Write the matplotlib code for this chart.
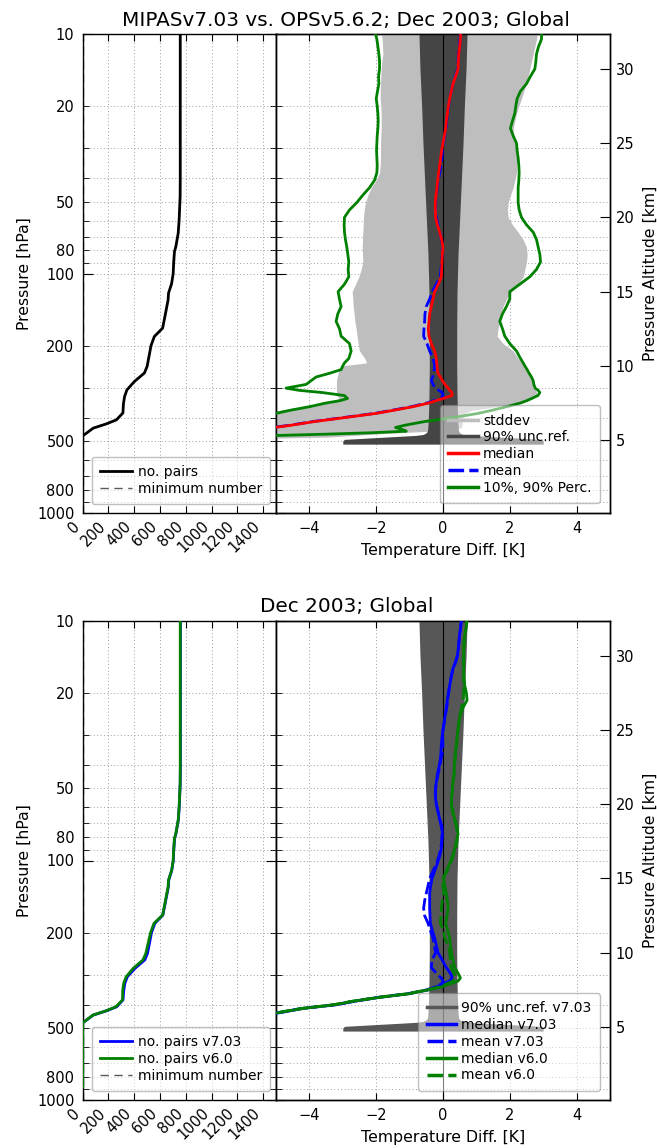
import numpy as np
import matplotlib
matplotlib.use('Agg')
import matplotlib.pyplot as plt
from matplotlib.ticker import FixedLocator, FuncFormatter, NullFormatter
from matplotlib.lines import Line2D

plt.rcParams['font.family'] = ['DejaVu Sans']
plt.rcParams['axes.linewidth'] = 1.0

# ---------------- data ----------------
# number of pairs (top panel, black)
pairs_p = [10, 20, 30, 40, 47.6, 60, 67.8, 77, 81, 90, 100, 110, 120.6, 128.5, 151, 169, 183,
           200, 244, 260, 282, 306, 326, 350, 382, 408, 424, 442, 463, 476]
pairs_n = [757, 757, 757, 757, 756, 748, 741, 723, 712, 706, 702, 690, 666, 663, 638, 620, 556,
           530, 500, 479, 402, 343, 325, 316, 312, 262, 185, 82, 31, 0]
# bottom panel
pairs703_p = pairs_p
pairs703_n = [758, 758, 758, 758, 757, 749, 742, 724, 713, 707, 703, 691, 668, 665, 640, 622, 560,
              534, 503, 482, 406, 346, 327, 318, 313, 264, 186, 82, 31, 0]
pairs60_p = pairs_p + [520, 700, 880]
pairs60_n = [757, 757, 757, 757, 756, 748, 741, 723, 712, 706, 702, 690, 666, 663, 638, 620, 553,
             527, 490, 468, 392, 337, 318, 310, 309, 258, 182, 80, 30, 0, 0, 0, 0]
min_number = 3

# top right statistics (altitude in km)
stats_alt = [32.35, 32.0, 31.5, 31.0, 30.5, 30.0, 29.5, 29.0, 28.5, 28.0, 27.5, 27.0,
             26.5, 26.0, 25.5, 25.0, 24.5, 24.0, 23.5, 23.0, 22.5, 22.0, 21.5, 21.0,
             20.5, 20.0, 19.5, 19.0, 18.5, 18.0, 17.5, 17.0, 16.5, 16.0, 15.5, 15.0,
             14.5, 14.0, 13.5, 13.0, 12.5, 12.0, 11.5, 11.0, 10.5, 10.2, 10.0,
             9.75, 9.5, 9.25, 9.0, 8.75, 8.5, 8.35, 8.2, 8.0, 7.8, 7.65, 7.5,
             7.25, 7.0, 6.8, 6.5, 6.25, 6.0, 5.85, 5.7, 5.6, 5.5, 5.4, 5.3, 5.2, 5.1, 5.0]
perc10 = [-2.02, -1.98, -1.95, -1.92, -1.90, -1.90, -1.93, -1.92, -1.96, -2.00, -1.97, -1.95,
          -1.94, -1.95, -1.97, -1.98, -1.99, -1.98, -1.97, -1.98, -2.05, -2.20, -2.40, -2.58,
          -2.80, -2.95, -2.96, -2.95, -2.92, -2.88, -2.85, -2.82, -2.84, -2.82, -2.95, -3.14,
          -3.10, -3.05, -3.15, -3.20, -3.10, -3.05, -2.80, -2.75, -2.82, -2.95, -3.00,
          -3.05, -3.40, -3.80, -3.95, -4.10, -4.70, -4.30, -3.60, -2.95, -2.86, -3.10, -3.50,
          -4.00, -4.60, -5.00, -6.00, -6.80, -7.50, -8.0, -8.5, -9.0, -9.0, -9.0, -9.0, -9.0, -9.0, -9.0]
std_lo = [-1.85, -1.82, -1.81, -1.80, -1.83, -1.85, -1.86, -1.87, -1.88, -1.88, -1.86, -1.85,
          -1.85, -1.85, -1.86, -1.87, -1.87, -1.87, -1.88, -1.90, -2.00, -2.15, -2.25, -2.32,
          -2.36, -2.38, -2.39, -2.40, -2.41, -2.42, -2.41, -2.40, -2.45, -2.52, -2.62, -2.72,
          -2.70, -2.69, -2.66, -2.64, -2.60, -2.57, -2.54, -2.50, -2.34, -2.29, -3.04,
          -3.12, -3.14, -3.17, -3.19, -3.19, -3.19, -3.19, -3.19, -3.17, -3.12, -3.30, -3.65,
          -4.20, -4.90, -5.40, -6.50, -7.50, -8.50, -9.0, -9.5, -10, -10, -10, -10, -10, -10, -10]
median = [0.53, 0.52, 0.50, 0.47, 0.46, 0.45, 0.38, 0.30, 0.25, 0.20, 0.16, 0.13,
          0.10, 0.08, 0.04, 0.00, -0.04, -0.07, -0.10, -0.13, -0.16, -0.18, -0.21, -0.23,
          -0.23, -0.22, -0.17, -0.10, -0.04, 0.00, -0.02, -0.03, -0.04, -0.05, -0.14, -0.25,
          -0.30, -0.35, -0.40, -0.42, -0.44, -0.42, -0.35, -0.25, -0.20, -0.19, -0.18,
          -0.17, -0.15, -0.08, -0.02, 0.06, 0.15, 0.20, 0.27, 0.27, 0.00, -0.22, -0.42,
          -0.90, -1.50, -2.00, -3.00, -3.85, -4.55, -5.05, -5.6, -6.0, -6.3, -6.6, -6.9, -7.2, -7.5, -7.8]
mean = [0.52, 0.51, 0.49, 0.46, 0.45, 0.44, 0.37, 0.30, 0.25, 0.20, 0.17, 0.14,
        0.11, 0.09, 0.05, 0.01, -0.02, -0.03, -0.06, -0.10, -0.14, -0.17, -0.20, -0.22,
        -0.22, -0.20, -0.15, -0.10, -0.04, -0.01, -0.02, -0.04, -0.06, -0.08, -0.20, -0.32,
        -0.40, -0.50, -0.54, -0.55, -0.57, -0.58, -0.48, -0.40, -0.30, -0.26, -0.25,
        -0.26, -0.27, -0.31, -0.35, -0.30, -0.22, -0.12, -0.02, 0.00, -0.06, -0.28, -0.48,
        -0.95, -1.55, -2.05, -3.05, -3.90, -4.60, -5.1, -5.65, -6.05, -6.35, -6.65, -6.95, -7.25, -7.55, -7.85]
std_hi = [2.82, 2.80, 2.75, 2.70, 2.65, 2.60, 2.55, 2.50, 2.42, 2.35, 2.27, 2.20,
          2.15, 2.10, 2.12, 2.15, 2.18, 2.20, 2.20, 2.20, 2.15, 2.10, 2.02, 1.95,
          1.93, 1.95, 2.08, 2.25, 2.40, 2.50, 2.52, 2.50, 2.45, 2.40, 2.25, 2.05,
          1.90, 1.80, 1.72, 1.70, 1.65, 1.62, 1.80, 2.10, 2.25, 2.35, 2.45,
          2.52, 2.58, 2.64, 2.70, 2.72, 2.75, 2.78, 2.80, 2.80, 2.70, 2.55, 2.30,
          1.60, 0.85, 0.65, 0.60, 0.58, 0.57, 0.55, 0.35, -0.40, -1.30, -2.10, -2.80, -3.50, -6.00, -9.00]
perc90 = [2.95, 2.95, 2.86, 2.80, 2.78, 2.75, 2.62, 2.50, 2.32, 2.22, 2.18, 2.15,
          2.08, 2.02, 2.10, 2.20, 2.22, 2.25, 2.27, 2.28, 2.27, 2.25, 2.25, 2.25,
          2.28, 2.35, 2.50, 2.70, 2.80, 2.85, 2.90, 2.92, 2.80, 2.60, 2.30, 2.00,
          2.00, 1.90, 1.78, 1.70, 1.78, 1.85, 2.00, 2.20, 2.32, 2.40, 2.45,
          2.52, 2.58, 2.65, 2.70, 2.72, 2.76, 2.85, 2.90, 2.84, 2.65, 2.50, 2.32,
          1.90, 1.45, 1.05, 0.25, -0.55, -1.15, -1.42, -1.20, -1.10, -2.10, -3.50, -5.20, -7.0, -8.0, -9.0]

# 90% uncertainty of reference (half width, K)
unc_alt = [32.35, 30, 27.5, 25, 22.5, 20, 17.5, 15, 12.5, 10, 8, 7, 6.5, 6.0, 5.7,
           5.55, 5.45, 5.38, 5.32, 5.25, 5.15, 5.05, 4.95, 4.73]
unc_half = [0.72, 0.69, 0.64, 0.60, 0.55, 0.50, 0.45, 0.42, 0.41, 0.41, 0.42, 0.43, 0.44, 0.45, 0.46,
            0.48, 0.53, 0.60, 0.80, 1.35, 2.15, 2.95, 3.0, 3.0]

# bottom right (v7.03 vs v6.0)
bot_alt = [32.35, 32.0, 31.5, 31.0, 30.5, 30.0, 29.5, 29.0, 28.5, 28.0, 27.5, 27.0,
           26.5, 26.0, 25.5, 25.0, 24.5, 24.0, 23.5, 23.0, 22.5, 22.0, 21.5, 21.0,
           20.5, 20.0, 19.5, 19.0, 18.5, 18.0, 17.5, 17.0, 16.5, 16.0, 15.5, 15.0,
           14.5, 14.0, 13.5, 13.0, 12.5, 12.0, 11.5, 11.0, 10.5, 10.0,
           9.5, 9.0, 8.75, 8.5, 8.3, 8.1, 8.0, 7.8, 7.7, 7.5, 7.25, 7.0,
           6.75, 6.5, 6.25, 6.0, 5.75, 5.5, 5.2]
med703 = [0.55, 0.53, 0.50, 0.48, 0.46, 0.43, 0.36, 0.28, 0.24, 0.20, 0.16, 0.13,
          0.10, 0.07, 0.03, 0.00, -0.03, -0.05, -0.06, -0.08, -0.12, -0.17, -0.20, -0.23,
          -0.23, -0.20, -0.15, -0.10, -0.03, -0.02, -0.03, -0.05, -0.10, -0.17, -0.25, -0.33,
          -0.37, -0.40, -0.40, -0.40, -0.39, -0.38, -0.32, -0.25, -0.20, -0.15,
          -0.02, 0.10, 0.18, 0.25, 0.27, 0.20, 0.10, -0.10, -0.20, -0.45, -1.00, -1.90,
          -2.60, -3.20, -4.20, -4.80, -5.50, -6.20, -7.0]
mean703 = [0.55, 0.53, 0.51, 0.48, 0.46, 0.44, 0.37, 0.29, 0.24, 0.20, 0.17, 0.14,
           0.11, 0.07, 0.04, 0.00, -0.01, 0.00, -0.02, -0.06, -0.10, -0.15, -0.19, -0.22,
           -0.22, -0.20, -0.15, -0.10, -0.05, -0.03, -0.04, -0.07, -0.12, -0.20, -0.30, -0.40,
           -0.45, -0.50, -0.55, -0.58, -0.55, -0.45, -0.38, -0.30, -0.26, -0.22,
           -0.33, -0.35, -0.25, -0.15, -0.05, 0.00, 0.00, -0.12, -0.22, -0.50, -1.05, -1.95,
           -2.65, -3.25, -4.25, -4.85, -5.55, -6.25, -7.05]
med60 = [0.72, 0.70, 0.66, 0.63, 0.62, 0.62, 0.62, 0.62, 0.63, 0.65, 0.70, 0.72,
         0.60, 0.52, 0.48, 0.45, 0.42, 0.40, 0.37, 0.35, 0.34, 0.33, 0.30, 0.28,
         0.26, 0.25, 0.30, 0.35, 0.42, 0.45, 0.40, 0.35, 0.28, 0.20, 0.10, 0.02,
         0.05, 0.10, 0.13, 0.15, 0.12, 0.08, 0.14, 0.20, 0.22, 0.25,
         0.30, 0.35, 0.42, 0.48, 0.52, 0.45, 0.35, 0.05, -0.05, -0.45, -1.00, -1.90,
         -2.65, -3.25, -4.20, -4.85, -5.50, -6.20, -7.0]
mean60 = [0.71, 0.70, 0.67, 0.64, 0.63, 0.62, 0.62, 0.61, 0.62, 0.63, 0.62, 0.60,
          0.56, 0.50, 0.47, 0.45, 0.43, 0.41, 0.39, 0.36, 0.34, 0.33, 0.30, 0.28,
          0.26, 0.25, 0.28, 0.33, 0.40, 0.43, 0.42, 0.38, 0.30, 0.22, 0.12, 0.00,
          0.00, 0.02, -0.02, -0.05, -0.06, -0.08, 0.02, 0.05, 0.15, 0.20,
          0.22, 0.25, 0.30, 0.35, 0.38, 0.30, 0.20, 0.00, -0.10, -0.50, -1.05, -1.95,
          -2.70, -3.30, -4.25, -4.90, -5.55, -6.25, -7.05]

p_major = [10, 100, 1000]
p_minor = [20, 30, 40, 50, 60, 70, 80, 90, 200, 300, 400, 500, 600, 700, 800, 900]
p_minor_labels = {20: '20', 50: '50', 80: '80', 200: '200', 500: '500', 800: '800'}
n_ticks = [0, 200, 400, 600, 800, 1000, 1200, 1400]
t_ticks = [-4, -2, 0, 2, 4]
alt_ticks = [5, 10, 15, 20, 25, 30]

# ---------------- style ----------------
TICK_FS = 10.5
LAB_FS = 11.3
LEG_FS = 10.0
TITLE_FS = 14.4
GRID = dict(color='0.62', linestyle=(0, (1, 2.5)), linewidth=0.7)
DARK_TOP = '#454545'
DARK_BOT = '#575757'
LIGHT = '#bebebe'
DASH = (0, (4.5, 1.5))
LEGKW = dict(fontsize=LEG_FS, handletextpad=0.4, labelspacing=0.2, borderpad=0.6,
             fancybox=True, framealpha=0.5, edgecolor='0.5', borderaxespad=0)


def alt_of(p):
    return 7.0 * np.log(1013.25 / p)


W, H = 657.0, 1148.0
fig = plt.figure(figsize=(W / 100, H / 100), dpi=100)


def frac(x0, y0, x1, y1):
    return [x0 / W, 1 - y1 / H, (x1 - x0) / W, (y1 - y0) / H]


def setup_pressure(ax, labels):
    ax.set_yscale('log')
    ax.set_ylim(1000, 10)
    ax.yaxis.set_major_locator(FixedLocator(p_major))
    ax.yaxis.set_minor_locator(FixedLocator(p_minor))
    if labels:
        ax.yaxis.set_major_formatter(FuncFormatter(lambda v, pos: '%d' % v))
        ax.yaxis.set_minor_formatter(FuncFormatter(lambda v, pos: p_minor_labels.get(int(round(v)), '')))
    else:
        ax.yaxis.set_major_formatter(NullFormatter())
        ax.yaxis.set_minor_formatter(NullFormatter())
    ax.grid(True, which='both', **GRID)
    ax.set_axisbelow(True)


def left_panel(y0, y1, series, legend_labels):
    ax = fig.add_axes(frac(82.7, y0, 276, y1))
    setup_pressure(ax, True)
    ax.set_xlim(0, 1500)
    ax.set_xticks(n_ticks)
    ax.set_xticklabels([str(v) for v in n_ticks], rotation=45, ha='right', fontsize=TICK_FS)
    ax.tick_params(axis='both', which='both', direction='in', top=True, right=True,
                   labelsize=TICK_FS)
    ax.tick_params(axis='y', which='major', length=7, pad=6)
    ax.tick_params(axis='y', which='minor', length=4, pad=6)
    ax.tick_params(axis='x', which='major', length=5, pad=4)
    handles = []
    for (p, n, c) in series:
        h, = ax.plot(n, p, color=c, lw=2, zorder=3)
        handles.append(h)
    hm = ax.axvline(min_number, color='0.35', ls=(0, (6, 4)), lw=1.0, zorder=2)
    handles.append(hm)
    ax.set_ylabel('Pressure [hPa]', fontsize=LAB_FS, labelpad=4)
    leg = ax.legend(handles, legend_labels, loc='lower left',
                    bbox_to_anchor=(9 / 193.3, 9 / 478.7), handlelength=2.3, **LEGKW)
    leg.get_frame().set_linewidth(1.0)
    return ax


def right_panel(y0, y1):
    ax = fig.add_axes(frac(276, y0, 610, y1))
    setup_pressure(ax, False)
    ax.set_xlim(-5, 5)
    ax.set_xticks(t_ticks)
    ax.set_xticklabels(['\u22124', '\u22122', '0', '2', '4'])
    ax.tick_params(axis='both', which='both', direction='in', top=True, right=False,
                   labelsize=TICK_FS)
    ax.tick_params(axis='y', which='major', length=7)
    ax.tick_params(axis='y', which='minor', length=4)
    ax.tick_params(axis='x', which='major', length=5, pad=6)
    ax.set_xlabel('Temperature Diff. [K]', fontsize=LAB_FS, labelpad=5)
    ax2 = ax.twinx()
    ax2.set_ylim(alt_of(1000), alt_of(10))
    ax2.set_yticks(alt_ticks)
    ax2.tick_params(axis='y', direction='in', length=7, labelsize=TICK_FS, pad=4)
    ax2.set_ylabel('Pressure Altitude [km]', fontsize=LAB_FS, labelpad=6)
    ax2.axvline(0, color='k', lw=0.8, zorder=2)
    return ax, ax2


# ---------------- top ----------------
top_y0, top_y1 = 34.3, 513.0
left_panel(top_y0, top_y1, [(pairs_p, pairs_n, 'k')], ['no. pairs', 'minimum number'])
ax, ax2 = right_panel(top_y0, top_y1)
ax2.fill_betweenx(stats_alt, std_lo, std_hi, color=LIGHT, lw=0, zorder=1)
unc_a = np.array(unc_half)
ax2.fill_betweenx(unc_alt, -unc_a, unc_a, color=DARK_TOP, lw=0, zorder=1.5)
ax2.plot(mean, stats_alt, color='b', lw=2, ls=DASH, zorder=3)
ax2.plot(median, stats_alt, color='r', lw=2, zorder=3.2)
ax2.plot(perc10, stats_alt, color='g', lw=2, zorder=3.4)
ax2.plot(perc90, stats_alt, color='g', lw=2, zorder=3.4)
hs = [Line2D([], [], color=LIGHT, lw=2.5), Line2D([], [], color=DARK_TOP, lw=2.5),
      Line2D([], [], color='r', lw=2.5), Line2D([], [], color='b', lw=2.5, ls=DASH),
      Line2D([], [], color='g', lw=2.5)]
leg = ax2.legend(hs, ['stddev', '90% unc.ref.', 'median', 'mean', '10%, 90% Perc.'],
                 loc='lower right', bbox_to_anchor=(1 - 10 / 334, 10 / 478.7),
                 handlelength=2.1, **LEGKW)
fig.text(346.3 / W, 1 - 26.5 / H, 'MIPASv7.03 vs. OPSv5.6.2; Dec 2003; Global',
         ha='center', va='baseline', fontsize=TITLE_FS)

# ---------------- bottom ----------------
bot_y0, bot_y1 = 621.0, 1100.0
left_panel(bot_y0, bot_y1, [(pairs703_p, pairs703_n, 'b'), (pairs60_p, pairs60_n, 'g')],
           ['no. pairs v7.03', 'no. pairs v6.0', 'minimum number'])
ax, ax2 = right_panel(bot_y0, bot_y1)
ax2.fill_betweenx(unc_alt, -unc_a, unc_a, color=DARK_BOT, lw=0, zorder=1.5)
ax2.plot(med703, bot_alt, color='b', lw=2, zorder=3)
ax2.plot(mean703, bot_alt, color='b', lw=2, ls=DASH, zorder=3)
ax2.plot(med60, bot_alt, color='g', lw=2, zorder=3.2)
ax2.plot(mean60, bot_alt, color='g', lw=2, ls=DASH, zorder=3.2)
hs = [Line2D([], [], color=DARK_BOT, lw=2.5), Line2D([], [], color='b', lw=2.5),
      Line2D([], [], color='b', lw=2.5, ls=DASH), Line2D([], [], color='g', lw=2.5),
      Line2D([], [], color='g', lw=2.5, ls=DASH)]
leg = ax2.legend(hs, ['90% unc.ref. v7.03', 'median v7.03', 'mean v7.03', 'median v6.0', 'mean v6.0'],
                 loc='lower right', bbox_to_anchor=(1 - 10 / 334, 9.3 / 479),
                 handlelength=2.1, **LEGKW)
fig.text(346.3 / W, 1 - 612.3 / H, 'Dec 2003; Global',
         ha='center', va='baseline', fontsize=TITLE_FS)

fig.savefig('out.png', dpi=100)
